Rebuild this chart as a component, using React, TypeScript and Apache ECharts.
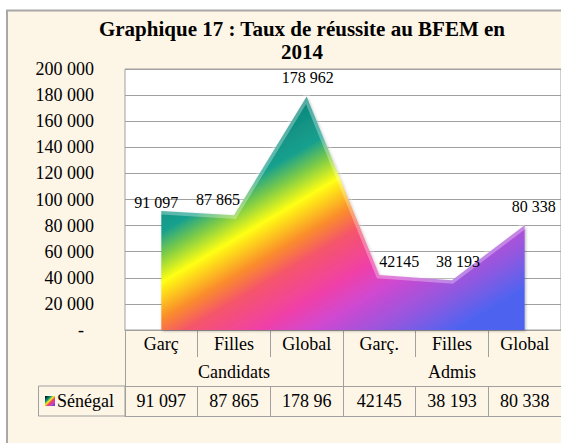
import React, { useEffect, useRef } from "react";
import * as echarts from "echarts";

const TITLE = "Graphique 17 : Taux de réussite au BFEM en\n2014";
const categories = ["Garç", "Filles", "Global", "Garç.", "Filles", "Global"];
const groups = ["Candidats", "Admis"];
const seriesName = "Sénégal";
const values = [91097, 87865, 178962, 42145, 38193, 80338];
const pointLabels = ["91 097", "87 865", "178 962", "42145", "38 193", "80 338"];
const tableValues = ["91 097", "87 865", "178 96", "42145", "38 193", "80 338"];
const yMin = 0;
const yMax = 200000;
const yStep = 20000;

// label nudges (style only)
const labelNudge = [
  [-5, -9],
  [-16, -16],
  [1, -19],
  [20, -14],
  [6, -19],
  [9, -19],
];

const FONT = "'Liberation Serif', 'Times New Roman', serif";
const GRID_LEFT = 125;
const GRID_TOP = 69;
const GRID_H = 261;
const LINE = "#A0A0A0";
// fill gradient axis in page pixels (style only)
const GRAD = { x: 169.5, y: 111.4, x2: 338.6, y2: 398.3 };

function fmt(v: number): string {
  if (v === 0) return "{d|-}";
  return String(v).replace(/\B(?=(\d{3})+(?!\d))/g, " ");
}

const rainbow = () =>
  new echarts.graphic.LinearGradient(
    GRAD.x,
    GRAD.y,
    GRAD.x2,
    GRAD.y2,
    [
      { offset: 0, color: "#0A7C72" },
      { offset: 0.17, color: "#0C857A" },
      { offset: 0.3, color: "#17A08E" },
      { offset: 0.36, color: "#7CCB48" },
      { offset: 0.43, color: "#FFFF12" },
      { offset: 0.525, color: "#FA8C2C" },
      { offset: 0.59, color: "#F5556A" },
      { offset: 0.7, color: "#F040A8" },
      { offset: 0.78, color: "#D048D0" },
      { offset: 0.9, color: "#9058E0" },
      { offset: 1, color: "#4E64F0" },
    ],
    true
  );

export default function App() {
  const ref = useRef<HTMLDivElement>(null);

  useEffect(() => {
    if (!ref.current) return;
    const chart = echarts.init(ref.current, undefined, { renderer: "svg" });
    const axisText = { fontFamily: FONT, fontSize: 18, color: "#000" };
    const option: any = {
      animation: false,
      backgroundColor: "#FFFFFF",
      title: {
        text: TITLE,
        left: 302,
        top: 17,
        textAlign: "center",
        padding: 0,
        textStyle: {
          fontFamily: FONT,
          fontSize: 21,
          fontWeight: "bold",
          color: "#000",
          lineHeight: 23,
        },
      },
      graphic: [
        {
          type: "rect",
          z: -10,
          silent: true,
          shape: { x: 7, y: 10.5, width: 700, height: 600 },
          style: { fill: "#FDF5E6", stroke: "#A8A8A8", lineWidth: 2 },
        },
        {
          type: "rect",
          silent: true,
          shape: { x: 38.5, y: 386, width: GRID_LEFT - 38.5, height: 30 },
          style: { fill: "none", stroke: LINE, lineWidth: 1 },
        },
        {
          type: "rect",
          silent: true,
          shape: { x: 45, y: 396, width: 10, height: 10 },
          style: {
            fill: new echarts.graphic.LinearGradient(0, 0, 1, 1, [
              { offset: 0, color: "#000" },
              { offset: 0.3, color: "#0E8C80" },
              { offset: 0.45, color: "#E8F020" },
              { offset: 0.6, color: "#F04060" },
              { offset: 0.8, color: "#C040D0" },
              { offset: 1, color: "#3040E0" },
            ]),
          },
        },
        {
          type: "text",
          silent: true,
          x: 57,
          y: 401,
          style: {
            text: seriesName,
            font: `18px ${FONT}`,
            fill: "#000",
            textAlign: "left",
            textVerticalAlign: "middle",
          },
        },
      ],
      grid: {
        left: GRID_LEFT,
        top: GRID_TOP,
        right: 0,
        height: GRID_H,
        show: true,
        backgroundColor: "#FFFFFF",
        borderColor: LINE,
        borderWidth: 1,
        containLabel: false,
      },
      yAxis: {
        type: "value",
        min: yMin,
        max: yMax,
        interval: yStep,
        axisLine: { show: false },
        axisTick: { show: false },
        splitLine: { show: true, lineStyle: { color: LINE, width: 1 } },
        axisLabel: {
          ...axisText,
          margin: 31,
          formatter: fmt,
          rich: { d: { ...axisText, padding: [0, 10, 0, 0] } },
        },
      },
      xAxis: [
        {
          type: "category",
          position: "bottom",
          data: categories,
          boundaryGap: true,
          axisLine: { show: true, onZero: false, lineStyle: { color: LINE } },
          axisTick: { show: true, length: 27, interval: 0, lineStyle: { color: LINE } },
          axisLabel: { ...axisText, interval: 0, margin: 14, verticalAlign: "middle" },
          splitLine: { show: false },
        },
        {
          type: "category",
          position: "bottom",
          offset: 27,
          data: groups,
          boundaryGap: true,
          axisLine: { show: false, onZero: false },
          axisTick: { show: true, length: 29, interval: 0, lineStyle: { color: LINE } },
          axisLabel: { ...axisText, interval: 0, margin: 15, verticalAlign: "middle" },
          splitLine: { show: false },
        },
        {
          type: "category",
          position: "bottom",
          offset: 56,
          data: tableValues,
          boundaryGap: true,
          axisLine: { show: true, onZero: false, lineStyle: { color: LINE } },
          axisTick: { show: true, length: 30, interval: 0, lineStyle: { color: LINE } },
          axisLabel: { ...axisText, interval: 0, margin: 15, verticalAlign: "middle" },
          splitLine: { show: false },
        },
        {
          type: "category",
          position: "bottom",
          offset: 86,
          data: categories,
          boundaryGap: true,
          axisLine: { show: true, onZero: false, lineStyle: { color: LINE } },
          axisTick: { show: false },
          axisLabel: { show: false },
          splitLine: { show: false },
        },
      ],
      series: [
        {
          name: seriesName,
          type: "line",
          xAxisIndex: 0,
          yAxisIndex: 0,
          data: values.map((v, i) => ({ value: v, label: { offset: labelNudge[i] } })),
          symbol: "circle",
          symbolSize: 2,
          itemStyle: { color: "rgba(0,0,0,0)" },
          lineStyle: { width: 7, color: "rgba(255,255,255,0.3)", join: "miter" },
          areaStyle: {
            color: rainbow(),
            opacity: 1,
            shadowColor: "rgba(0,0,0,0.3)",
            shadowBlur: 3,
            shadowOffsetX: 1,
            shadowOffsetY: 1,
          },
          label: {
            show: true,
            position: "inside",
            formatter: (p: any) => pointLabels[p.dataIndex],
            fontFamily: FONT,
            fontSize: 16,
            color: "#000",
          },
          silent: true,
          z: 3,
        },
      ],
    };
    chart.setOption(option);
    return () => chart.dispose();
  }, []);

  return (
    <div
      ref={ref}
      style={{ position: "fixed", left: 0, top: 0, width: 561, height: 443 }}
    />
  );
}
